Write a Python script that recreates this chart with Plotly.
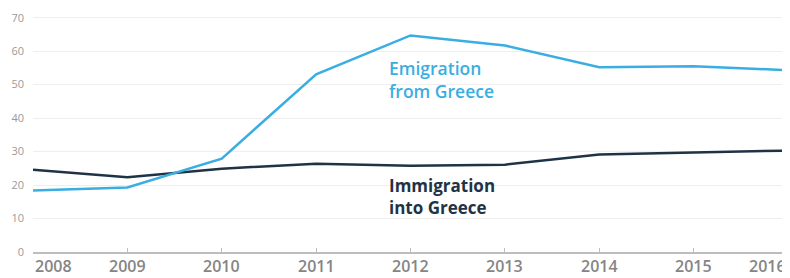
import plotly.graph_objects as go

years = [2008, 2009, 2010, 2011, 2012, 2013, 2014, 2015, 2016]
emigration = [18.4, 19.3, 27.9, 53.1, 64.7, 61.7, 55.2, 55.5, 54.3]
immigration = [24.6, 22.3, 24.9, 26.4, 25.8, 26.1, 29.1, 29.7, 30.3]
y_ticks = [0, 10, 20, 30, 40, 50, 60, 70]
x_labels = [str(y) for y in years]

blue = "#3aaee2"
dark = "#1f3346"

fig = go.Figure()
fig.add_trace(go.Scatter(x=years, y=immigration, mode="lines",
                         line=dict(color=dark, width=2.5), hoverinfo="skip"))
fig.add_trace(go.Scatter(x=years, y=emigration, mode="lines",
                         line=dict(color=blue, width=2.5), hoverinfo="skip"))

fig.add_annotation(x=2011.75, y=51.5, xref="x", yref="y", xanchor="left", yanchor="middle",
                   text="Emigration<br>from Greece", showarrow=False, align="left",
                   font=dict(family="Open Sans", size=17.5, color=blue, weight=600))
fig.add_annotation(x=2011.75, y=16.5, xref="x", yref="y", xanchor="left", yanchor="middle",
                   text="Immigration<br>into Greece", showarrow=False, align="left",
                   font=dict(family="Open Sans", size=17, color=dark, weight=700))

for i, (yr, lab) in enumerate(zip(years, x_labels)):
    anchor = "center"
    if i == 0:
        anchor = "left"
    elif i == len(years) - 1:
        anchor = "right"
    fig.add_annotation(x=yr, y=0, xref="x", yref="paper", xanchor=anchor, yanchor="top",
                       yshift=-1, text=lab, showarrow=False,
                       font=dict(family="Open Sans", size=16, color="#858585", weight=600))

fig.update_layout(
    width=782, height=270,
    margin=dict(l=25, r=2, t=6, b=26),
    paper_bgcolor="white", plot_bgcolor="white",
    showlegend=False,
)
fig.update_xaxes(range=[2008, 2016], tickvals=years, showticklabels=False,
                 showgrid=False, zeroline=False, showline=True, linecolor="#bdbdbd",
                 linewidth=2, ticks="inside", ticklen=4, tickcolor="#bdbdbd", tickwidth=1)
fig.update_yaxes(range=[0, 70.5], tickvals=y_ticks, showgrid=True, gridcolor="#eeeeee",
                 gridwidth=1, zeroline=False, showline=False,
                 tickfont=dict(family="Open Sans", size=11, color="#9a9a9a"),
                 ticklabelstandoff=8, ticklabeloverflow="allow")

fig.write_html("out.html")
